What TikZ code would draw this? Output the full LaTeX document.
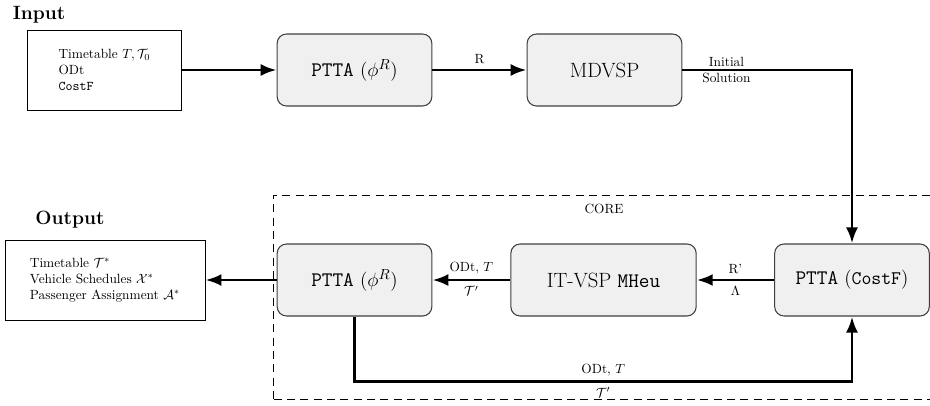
\documentclass[tikz,border=0pt]{standalone}
\usetikzlibrary{arrows.meta}
\begin{document}
\begin{tikzpicture}[x=0.75pt, y=0.75pt, every node/.style={font=\normalsize},
  io/.style={draw,line width=0.6pt,minimum height=60pt,align=left},
  box/.style={draw=black!75,fill=black!6,line width=0.8pt,rounded corners=7pt,minimum width=116pt,minimum height=54pt,font=\fontsize{15.5}{18}\selectfont},
  flow/.style={line width=2.2pt,-{Latex[length=12pt,width=9pt]}}]
\useasboundingbox (0,0) rectangle (930,405);
% top row
\node[font=\Large\bfseries] (inlbl) at (39,390) {Input};
\node[io,minimum width=116pt] (input) at (104.5,335) {Timetable $T, \mathcal{T}_0$\\ODt\\\texttt{CostF}};
\node[box] (ptta1) at (354.5,335) {\texttt{PTTA} $(\phi^R)$};
\node[box] (mdvsp) at (604.5,335) {MDVSP};
% core frame
\draw[line width=0.6pt,dash pattern=on 6pt off 4pt] (273,6) rectangle (940,210);
\node (core) at (604,196) {CORE};
\node[box] (ptta3) at (852,125) {\texttt{PTTA} $(\mathtt{CostF})$};
\node[box,minimum width=139pt] (itvsp) at (603.5,125) {IT-VSP \texttt{MHeu}};
\node[box] (ptta2) at (354.5,125) {\texttt{PTTA} $(\phi^R)$};
% output
\node[font=\Large\bfseries] (outlbl) at (70,185) {Output};
\node[io,minimum width=150pt] (output) at (105,125) {Timetable $\mathcal{T}^*$\\Vehicle Schedules $\mathcal{X}^*$\\Passenger Assignment $\mathcal{A}^*$};
% arrows
\draw[flow] (input) -- (ptta1);
\draw[flow] (ptta1) -- node[above] {R} (mdvsp);
\draw[flow] (mdvsp) -| node[pos=0.13,align=center] {Initial\\Solution} (ptta3);
\draw[flow] (ptta3) -- node[above] {R'} node[below] {$\Lambda$} (itvsp);
\draw[flow] (itvsp) -- node[above] {ODt,~$T$} node[below] {$\mathcal{T}'$} (ptta2);
\draw[flow] (ptta2) -- (output);
\draw[flow] (ptta2.south) -- ++(0,-65) -| node[pos=0.25,above] {ODt,~$T$} node[pos=0.25,below] {$\mathcal{T}'$} (ptta3.south);
\end{tikzpicture}
\end{document}
